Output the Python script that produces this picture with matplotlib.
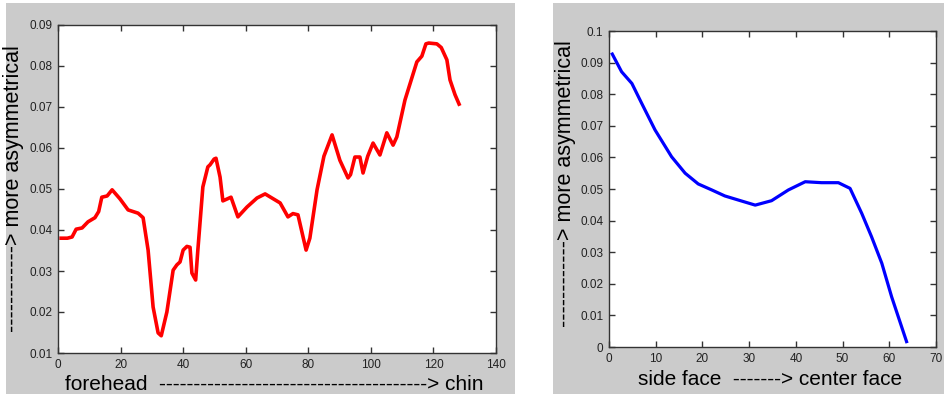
import matplotlib
matplotlib.use('Agg')
import matplotlib.pyplot as plt
from matplotlib.patches import Rectangle

plt.rcParams['font.family'] = ['Liberation Sans', 'DejaVu Sans']

# left panel: forehead -> chin (red)
x_left = [1, 3, 4.5, 5.8, 7.7, 9.6, 11.8, 13, 14, 15.7, 17.3, 19.8, 22.4, 25.6, 27.2,
          28.8, 30.4, 32, 33, 34.8, 36.8, 38, 39, 40, 41.2, 42.2, 42.8, 44, 44.7, 46.3,
          47.9, 48.6, 49.9, 50.5, 51.8, 52.7, 55.3, 57.5, 60.4, 63.6, 66.2, 71, 73.5,
          75.1, 76.7, 79.3, 80.5, 82.8, 85, 87.6, 90.1, 92.7, 93.5, 94.9, 96.5, 97.5,
          99, 100.7, 102.9, 105.1, 107.1, 108.3, 110.9, 114.7, 116.3, 117.6, 118.5,
          121.1, 122.5, 124.3, 125.3, 126.9, 128.2]
y_left = [0.038, 0.038, 0.0383, 0.0402, 0.0405, 0.042, 0.043, 0.0445, 0.048, 0.0483,
          0.0498, 0.0476, 0.0449, 0.0441, 0.043, 0.0351, 0.0212, 0.0149, 0.0142, 0.020,
          0.0302, 0.0315, 0.0322, 0.0351, 0.036, 0.0358, 0.0295, 0.0278, 0.0351, 0.0505,
          0.0554, 0.0559, 0.0573, 0.0575, 0.0529, 0.0471, 0.048, 0.0432, 0.0456, 0.0478,
          0.0488, 0.0466, 0.0432, 0.044, 0.0437, 0.0351, 0.038, 0.0498, 0.058, 0.0632,
          0.057, 0.0527, 0.0535, 0.0578, 0.0578, 0.0539, 0.058, 0.0612, 0.0583, 0.0637,
          0.0607, 0.0627, 0.0717, 0.081, 0.0824, 0.0854, 0.0856, 0.0854, 0.0845, 0.0815,
          0.0766, 0.073, 0.0707]

# right panel: side face -> center face (blue)
x_right = [0.7, 2.7, 4.9, 7.0, 9.85, 13.4, 16.3, 19.1, 22, 24.8, 27.7, 31.3, 34.8,
           38.4, 42, 45.5, 49.1, 51.6, 54.1, 56.2, 58.4, 60.5, 63.7]
y_right = [0.0927, 0.0871, 0.0834, 0.0771, 0.0687, 0.0602, 0.055, 0.0516, 0.0497,
           0.0478, 0.0465, 0.0449, 0.0463, 0.0497, 0.0523, 0.052, 0.052, 0.0502,
           0.0423, 0.0349, 0.0265, 0.0159, 0.0017]

left_yticks = [0.01, 0.02, 0.03, 0.04, 0.05, 0.06, 0.07, 0.08, 0.09]
left_ylabels = ['0.01', '0.02', '0.03', '0.04', '0.05', '0.06', '0.07', '0.08', '0.09']
left_xticks = [0, 20, 40, 60, 80, 100, 120, 140]
right_yticks = [0, 0.01, 0.02, 0.03, 0.04, 0.05, 0.06, 0.07, 0.08, 0.09, 0.1]
right_ylabels = ['0', '0.01', '0.02', '0.03', '0.04', '0.05', '0.06', '0.07', '0.08', '0.09', '0.1']
right_xticks = [0, 10, 20, 30, 40, 50, 60, 70]

W, H = 945, 394
fig = plt.figure(figsize=(W / 100, H / 100), dpi=100)
fig.patch.set_facecolor('white')

gray = '#cbcbcb'
fig.add_artist(Rectangle((6 / W, 0), (515 - 6) / W, (H - 3) / H, transform=fig.transFigure,
                         facecolor=gray, edgecolor='none', zorder=-10))
fig.add_artist(Rectangle((553 / W, 0), (945 - 553) / W, (H - 3) / H, transform=fig.transFigure,
                         facecolor=gray, edgecolor='none', zorder=-10))


def style(ax):
    ax.set_facecolor('white')
    for s in ax.spines.values():
        s.set_color('#333333')
        s.set_linewidth(1.0)
    ax.tick_params(direction='in', length=4, width=1, color='#333333',
                   top=True, right=True, labelsize=8.5, labelcolor='#222222', pad=4)


ax1 = fig.add_axes([58 / W, (H - 353) / H, (496 - 58) / W, (353 - 25) / H])
ax1.plot(x_left, y_left, color='#ff0000', linewidth=2.6)
ax1.set_xlim(0, 140)
ax1.set_ylim(0.01, 0.09)
ax1.set_xticks(left_xticks)
ax1.set_yticks(left_yticks)
ax1.set_yticklabels(left_ylabels)
style(ax1)
ax1.set_xlabel('forehead  ' + '-' * 39 + '> chin', fontsize=15)
ax1.set_ylabel('-' * 12 + '> more asymmetrical', fontsize=15.5)
ax1.xaxis.set_label_coords(0.493, -0.066)
ax1.yaxis.set_label_coords(-0.078, 0.5)

ax2 = fig.add_axes([609 / W, (H - 347) / H, (936 - 609) / W, (347 - 31) / H])
ax2.plot(x_right, y_right, color='#0000ff', linewidth=2.3)
ax2.set_xlim(0, 70)
ax2.set_ylim(0, 0.1)
ax2.set_xticks(right_xticks)
ax2.set_yticks(right_yticks)
ax2.set_yticklabels(right_ylabels)
style(ax2)
ax2.set_xlabel('side face  ' + '-' * 7 + '> center face', fontsize=15)
ax2.set_ylabel('-' * 12 + '> more asymmetrical', fontsize=15.5)
ax2.xaxis.set_label_coords(0.492, -0.074)
ax2.yaxis.set_label_coords(-0.101, 0.516)

fig.savefig('out.png', dpi=100)
